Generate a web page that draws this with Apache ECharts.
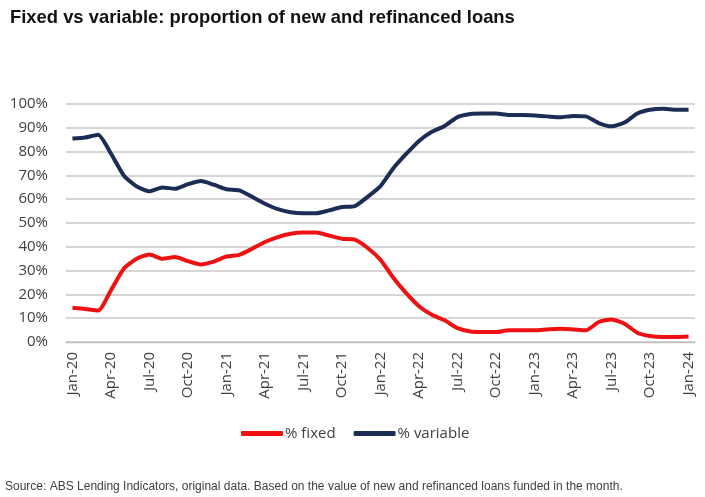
<!DOCTYPE html>
<html>
<head>
<meta charset="utf-8">
<title>Fixed vs variable</title>
<script src="https://cdn.jsdelivr.net/npm/echarts@6/dist/echarts.min.js"></script>
<style>
  html, body { margin: 0; padding: 0; background: #fff; }
  #main { width: 705px; height: 497px; }
</style>
</head>
<body>
<div id="main"></div>
<script>
// months Jan-20 .. Jan-24
var months = ['Jan-20','Feb-20','Mar-20','Apr-20','May-20','Jun-20','Jul-20','Aug-20','Sep-20','Oct-20','Nov-20','Dec-20',
  'Jan-21','Feb-21','Mar-21','Apr-21','May-21','Jun-21','Jul-21','Aug-21','Sep-21','Oct-21','Nov-21','Dec-21',
  'Jan-22','Feb-22','Mar-22','Apr-22','May-22','Jun-22','Jul-22','Aug-22','Sep-22','Oct-22','Nov-22','Dec-22',
  'Jan-23','Feb-23','Mar-23','Apr-23','May-23','Jun-23','Jul-23','Aug-23','Sep-23','Oct-23','Nov-23','Dec-23',
  'Jan-24'];

var fixedPct = [14.4, 13.9, 13.2, 21.7, 30.8, 35.0, 36.8, 35.0, 35.7, 34.0, 32.6, 33.8,
  35.9, 36.6, 39.2, 42.0, 44.1, 45.5, 46.0, 46.0, 44.7, 43.4, 43.0, 39.5,
  34.5, 27.0, 20.5, 15.0, 11.4, 9.1, 5.8, 4.4, 4.2, 4.2, 4.9, 4.9,
  4.9, 5.3, 5.6, 5.3, 4.9, 8.4, 9.5, 7.7, 3.9, 2.5, 2.1, 2.1,
  2.3];

var variablePct = [85.5, 85.9, 87.1, 79.2, 70.0, 65.4, 63.3, 64.9, 64.4, 66.3, 67.6, 66.1,
  64.2, 63.7, 61.0, 58.1, 55.8, 54.5, 54.1, 54.1, 55.3, 56.7, 57.1, 61.0,
  65.5, 73.0, 79.0, 84.5, 88.3, 90.8, 94.5, 95.8, 96.0, 96.0, 95.4, 95.4,
  95.2, 94.8, 94.4, 95.0, 94.8, 92.0, 90.6, 92.2, 96.0, 97.6, 98.0, 97.6,
  97.6];

var yTicks = [0, 100, 10]; // min, max, step

var chart = echarts.init(document.getElementById('main'));
var txt = '#404040';
var fnt = '"Open Sans", sans-serif';

chart.setOption({
  animation: false,
  title: {
    text: 'Fixed vs variable: proportion of new and refinanced loans',
    left: 5,
    top: 4,
    textStyle: { fontFamily: '"Liberation Sans", Arial, sans-serif', fontSize: 18.4, fontWeight: 'bold', color: '#111' }
  },
  graphic: [{
    type: 'text',
    left: 5,
    top: 481,
    style: {
      text: 'Source: ABS Lending Indicators, original data. Based on the value of new and refinanced loans funded in the month.',
      font: '12px "Liberation Sans", Arial, sans-serif',
      fill: txt
    }
  }],
  legend: {
    left: 241,
    top: 426,
    padding: 0,
    icon: 'roundRect',
    itemWidth: 42,
    itemHeight: 5,
    itemGap: 18,
    textStyle: { fontFamily: fnt, fontSize: 15, color: txt, padding: [0, 0, 0, -3] },
    data: ['% fixed', '% variable']
  },
  grid: { left: 66, right: 10, top: 104, bottom: 155 },
  xAxis: {
    type: 'category',
    data: months,
    boundaryGap: true,
    axisLine: { lineStyle: { color: '#bfbfbf', width: 1.3 } },
    axisTick: { interval: 2, length: 5, lineStyle: { color: '#bfbfbf', width: 1.3 } },
    axisLabel: { interval: 2, rotate: 90, margin: 10, fontFamily: fnt, fontSize: 15, color: txt }
  },
  yAxis: {
    type: 'value',
    min: yTicks[0],
    max: yTicks[1],
    interval: yTicks[2],
    axisLine: { show: false },
    axisTick: { show: false },
    axisLabel: { formatter: '{value}%', margin: 18, fontFamily: fnt, fontSize: 15, color: txt },
    splitLine: { lineStyle: { color: '#c8c8c8', width: 1.5 } }
  },
  series: [
    {
      name: '% fixed',
      type: 'line',
      data: fixedPct,
      smooth: 0.2,
      showSymbol: false,
      lineStyle: { color: '#ee1111', width: 4 },
      itemStyle: { color: '#ee1111' }
    },
    {
      name: '% variable',
      type: 'line',
      data: variablePct,
      smooth: 0.2,
      showSymbol: false,
      lineStyle: { color: '#1c2d55', width: 4 },
      itemStyle: { color: '#1c2d55' }
    }
  ]
});
</script>
</body>
</html>
